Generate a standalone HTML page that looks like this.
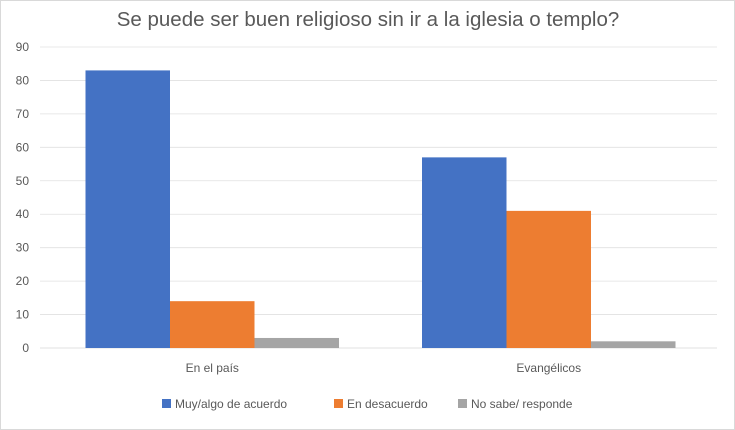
<!DOCTYPE html>
<html><head><meta charset="utf-8"><style>
body{margin:0;background:#fff}
svg{display:block;font-family:"Liberation Sans",sans-serif}
</style></head><body>
<svg id="c" width="735" height="430">
<rect x="0.5" y="0.5" width="734" height="429" fill="#fff" stroke="#d9d9d9"/>
<text x="368" y="26" text-anchor="middle" font-size="20.5" fill="#595959">Se puede ser buen religioso sin ir a la iglesia o templo?</text>
<g id="grid"></g><g id="bars"></g><g id="legend"></g>
</svg>
<script>
const categories=["En el país","Evangélicos"];
const seriesNames=["Muy/algo de acuerdo","En desacuerdo","No sabe/ responde"];
const acuerdo=[83,57];
const desacuerdo=[14,41];
const nosabe=[3,2];
const ticks=[0,10,20,30,40,50,60,70,80,90];
const colors=["#4472c4","#ed7d31","#a5a5a5"];
const series=[acuerdo,desacuerdo,nosabe];
const NS="http://www.w3.org/2000/svg";
const x0=44,x1=717,yTop=47,yBot=348,yMax=90;
const y=v=>yBot-(v/yMax)*(yBot-yTop);
function mk(t,a,p){const e=document.createElementNS(NS,t);for(const k in a)e.setAttribute(k,a[k]);p.appendChild(e);return e;}
const grid=document.getElementById('grid');
ticks.forEach(t=>{
 const l=mk('line',{x1:40,x2:x1,y1:y(t),y2:y(t),stroke:t===0?'#d9d9d9':'#e0e0e0','stroke-width':0.8},grid);
 
 
 const tx=mk('text',{x:29,y:y(t)+4,'text-anchor':'end','font-size':12,fill:'#595959'},grid);
 tx.textContent=t;
 
 
});
const bars=document.getElementById('bars');
const gw=(x1-x0)/categories.length, bw=84.5;
categories.forEach((c,i)=>{
 const cx=x0+gw*(i+0.5);
 series.forEach((s,j)=>{
  const bx=cx-1.5*bw+j*bw;
  const r=mk('rect',{x:bx,y:y(s[i]),width:bw,height:yBot-y(s[i]),fill:colors[j]},bars);
  
  
 });
 const t=mk('text',{x:cx,y:372,'text-anchor':'middle','font-size':12,fill:'#595959'},bars);
 t.textContent=c;
 
 
});
const lg=document.getElementById('legend');
const lx=[162,334,458];
seriesNames.forEach((n,j)=>{
 const r=mk('rect',{x:lx[j],y:399,width:9,height:9,fill:colors[j]},lg);
 
 
 const t=mk('text',{x:lx[j]+13,y:408,'font-size':12,fill:'#595959'},lg);
 t.textContent=n;
 
 
});
</script>
</body></html>
